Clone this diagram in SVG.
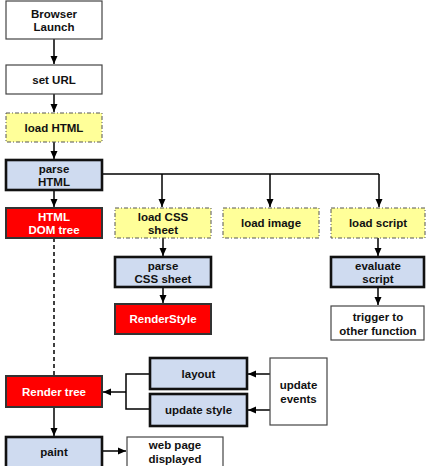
<svg xmlns="http://www.w3.org/2000/svg" width="426" height="466" viewBox="0 0 426 466">
<defs>
<marker id="ah" viewBox="0 0 8 8" refX="8" refY="4" markerWidth="8" markerHeight="8" markerUnits="userSpaceOnUse" orient="auto">
<path d="M0,0.5 L8,4 L0,7.5 z" fill="#000"/>
</marker>
<style>
text{font-family:"Liberation Sans",Arial,sans-serif;font-weight:bold;font-size:11.5px;text-anchor:middle;fill:#111}
.w{fill:#fff;stroke:#444;stroke-width:1.2}
.y{fill:#ffff99;stroke:#555;stroke-width:1;stroke-dasharray:4 2 1 2}
.b{fill:#cfdbf0;stroke:#111;stroke-width:2.6}
.r{fill:#ff0000;stroke:#333;stroke-width:2}
.r + text, .rt{fill:#fff}
.c{fill:none;stroke:#000;stroke-width:1.5}
</style>
</defs>
<rect width="426" height="466" fill="#fff"/>
<g id="connectors">
<path class="c" d="M54,39 V64" marker-end="url(#ah)"/>
<path class="c" d="M54,94 V112" marker-end="url(#ah)"/>
<path class="c" d="M54,142 V159" marker-end="url(#ah)"/>
<path class="c" d="M54,190 V207" marker-end="url(#ah)"/>
<path class="c" d="M102,174 H379"/>
<path class="c" d="M162,174 V207" marker-end="url(#ah)"/>
<path class="c" d="M270,174 V207" marker-end="url(#ah)"/>
<path class="c" d="M379,174 V207" marker-end="url(#ah)"/>
<path class="c" d="M163,238 V256" marker-end="url(#ah)"/>
<path class="c" d="M163,287 V303" marker-end="url(#ah)"/>
<path class="c" d="M378,238 V256" marker-end="url(#ah)"/>
<path class="c" d="M378,287 V305" marker-end="url(#ah)"/>
<path class="c" d="M54,238 V376" stroke-dasharray="4 3"/>
<path class="c" d="M54,407 V436" marker-end="url(#ah)"/>
<path class="c" d="M102,451 H126" marker-end="url(#ah)"/>
<path class="c" d="M270,374 H248" marker-end="url(#ah)"/>
<path class="c" d="M270,410 H248" marker-end="url(#ah)"/>
<path class="c" d="M150,374 H126 V409 H150" stroke-width="1.2"/>
<path class="c" d="M126,392 H103" marker-end="url(#ah)"/>
</g>
<g id="browser-launch"><rect class="w" x="6" y="1" width="96" height="38"/><text x="54" y="18">Browser</text><text x="54" y="31">Launch</text></g>
<g id="set-url"><rect class="w" x="6" y="65" width="96" height="29"/><text x="54" y="84">set URL</text></g>
<g id="load-html"><rect class="y" x="6" y="113" width="96" height="29"/><text x="54" y="132">load HTML</text></g>
<g id="parse-html"><rect class="b" x="6" y="160" width="96" height="30"/><text x="54" y="172.7">parse</text><text x="54" y="185.7">HTML</text></g>
<g id="html-dom-tree"><rect class="r" x="6" y="208" width="96" height="30"/><text class="rt" x="54" y="220.7">HTML</text><text class="rt" x="54" y="233.7">DOM tree</text></g>
<g id="load-css"><rect class="y" x="115" y="208" width="96" height="30"/><text x="163" y="220.7">load CSS</text><text x="163" y="233.7">sheet</text></g>
<g id="load-image"><rect class="y" x="223" y="208" width="96" height="30"/><text x="271" y="227.2">load image</text></g>
<g id="load-script"><rect class="y" x="331" y="208" width="94" height="30"/><text x="378" y="227.2">load script</text></g>
<g id="parse-css"><rect class="b" x="115" y="257" width="96" height="30"/><text x="163" y="269.7">parse</text><text x="163" y="282.7">CSS sheet</text></g>
<g id="render-style"><rect class="r" x="115" y="304" width="96" height="30"/><text class="rt" x="163" y="323.2">RenderStyle</text></g>
<g id="evaluate-script"><rect class="b" x="331" y="257" width="93" height="30"/><text x="378" y="269.7">evaluate</text><text x="378" y="282.7">script</text></g>
<g id="trigger"><rect class="w" x="331" y="306" width="93" height="34"/><text x="378" y="320.5">trigger to</text><text x="378" y="334.5">other function</text></g>
<g id="render-tree"><rect class="r" x="6" y="376" width="96" height="31"/><text class="rt" x="54" y="395.7">Render tree</text></g>
<g id="layout"><rect class="b" x="150" y="358" width="97" height="31"/><text x="198.5" y="377.7">layout</text></g>
<g id="update-style"><rect class="b" x="150" y="394" width="97" height="32"/><text x="198.5" y="414.2">update style</text></g>
<g id="update-events"><rect class="w" x="270" y="358" width="57" height="67" stroke="#777"/><text x="298.5" y="389">update</text><text x="298.5" y="403">events</text></g>
<g id="paint"><rect class="b" x="6" y="437" width="96" height="32"/><text x="54" y="456">paint</text></g>
<g id="web-page"><rect class="w" x="127" y="437" width="96" height="32"/><text x="175" y="449">web page</text><text x="175" y="463">displayed</text></g>
</svg>
